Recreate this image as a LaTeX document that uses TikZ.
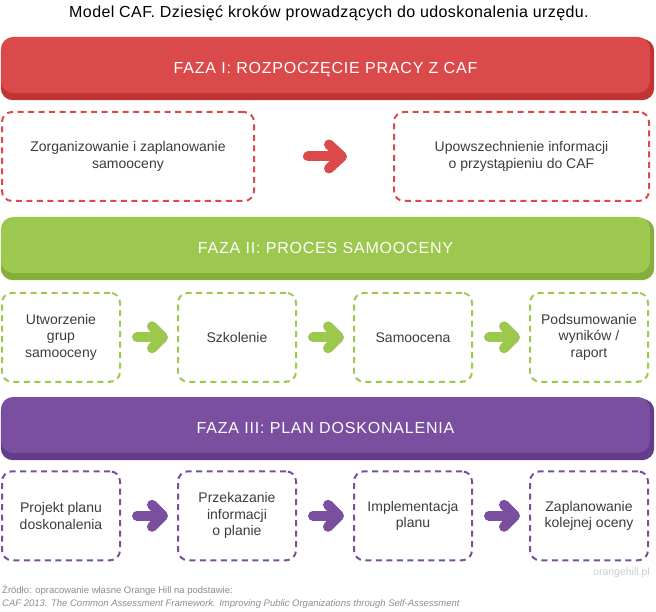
\documentclass[tikz,border=0pt]{standalone}
\usepackage{fontspec}
\setmainfont{Liberation Sans}
\newfontfamily\bandfont[LetterSpace=5]{Liberation Sans}
\newfontfamily\titlefont[LetterSpace=2.5]{Liberation Sans}
\usetikzlibrary{arrows.meta,backgrounds}
\definecolor{cafred}{RGB}{219,74,74}
\definecolor{cafredsh}{RGB}{192,52,52}
\definecolor{cafgreen}{RGB}{157,200,80}
\definecolor{cafgreensh}{RGB}{134,174,58}
\definecolor{cafpurple}{RGB}{122,79,160}
\definecolor{cafpurplesh}{RGB}{100,60,140}
\definecolor{textgray}{RGB}{60,60,60}
\definecolor{notegray}{RGB}{140,140,140}
\definecolor{wwwgray}{RGB}{205,205,205}

\begin{document}
\begin{tikzpicture}[x=1pt,y=-1pt,
  band/.style={fill=#1,rounded corners=12pt,minimum width=649pt,minimum height=56pt,
    text=white,text height=17.5pt,text depth=0pt,font=\bandfont\fontsize{16}{18}\selectfont},
  stepbox/.style={draw=#1,line width=2pt,dash pattern=on 6pt off 4.5pt,rounded corners=10pt,
    minimum width=118pt,minimum height=89pt,align=center,text=textgray,font=\fontsize{14}{16.5}\selectfont},
  fatarrow/.style={draw=#1,line width=10pt,line cap=round,
    -{Straight Barb[round,length=11pt 0,width=22pt 0]}}]
  \useasboundingbox (0,0) rectangle (656,612);

  \node[font=\titlefont\fontsize{16}{18}\selectfont] (title) at (329,13)
    {Model CAF. Dziesięć kroków prowadzących do udoskonalenia urzędu.};

  % phases:
  \node[band=cafred] (faza1) at (325.5,65) {FAZA I: ROZPOCZĘCIE PRACY Z CAF};
  \node[band=cafgreen] (faza2) at (325.5,245) {FAZA II: PROCES SAMOOCENY};
  \node[band=cafpurple] (faza3) at (325.5,425) {FAZA III: PLAN DOSKONALENIA};
  \begin{scope}[on background layer]
    \foreach \f/\c in {faza1/cafredsh, faza2/cafgreensh, faza3/cafpurplesh}
      \fill[\c,rounded corners=12pt] ([yshift=-2pt]\f.north west) rectangle ([xshift=4pt,yshift=-7pt]\f.south east);
  \end{scope}

  % steps:
  \node[stepbox=cafred,minimum width=252pt] (krok1) at (128,156.5) {Zorganizowanie i zaplanowanie\\samooceny};
  \node[stepbox=cafred,minimum width=255pt] (krok2) at (521.5,156.5) {Upowszechnienie informacji\\o przystąpieniu do CAF};

  \node[stepbox=cafgreen] (krok3) at (61,337.3) {Utworzenie\\grup\\samooceny};
  \node[stepbox=cafgreen] (krok4) at (237,337.3) {Szkolenie};
  \node[stepbox=cafgreen] (krok5) at (413,337.3) {Samoocena};
  \node[stepbox=cafgreen] (krok6) at (589,337.3) {Podsumowanie\\wyników /\\raport};

  \node[stepbox=cafpurple] (krok7) at (61,515.8) {Projekt planu\\doskonalenia};
  \node[stepbox=cafpurple] (krok8) at (237,515.8) {Przekazanie\\informacji\\o planie};
  \node[stepbox=cafpurple] (krok9) at (413,515.8) {Implementacja\\planu};
  \node[stepbox=cafpurple] (krok10) at (589,515.8) {Zaplanowanie\\kolejnej oceny};

  % arrows:
  \draw[fatarrow=cafred,-{Straight Barb[round,length=13pt 0,width=24pt 0]}]
    ([xshift=53pt]krok1.east) -- ([xshift=-46pt]krok2.west);
  \foreach \a/\b in {krok3/krok4, krok4/krok5, krok5/krok6}
    \draw[fatarrow=cafgreen] ([xshift=16pt]\a.east) -- ([xshift=-9pt]\b.west);
  \foreach \a/\b in {krok7/krok8, krok8/krok9, krok9/krok10}
    \draw[fatarrow=cafpurple] ([xshift=16pt]\a.east) -- ([xshift=-9pt]\b.west);

  % source:
  \node[anchor=east,inner sep=0pt,text=wwwgray,font=\fontsize{10.5}{12}\selectfont] (www) at (650,573) {orangehill.pl};
  \node[anchor=west,inner sep=0pt,align=left,text=notegray,font=\fontsize{9.5}{13.5}\selectfont] (zrodlo) at (2,597)
    {Źródło: opracowanie własne Orange Hill na podstawie:\\
     \textit{CAF 2013. The Common Assessment Framework. Improving Public Organizations through Self-Assessment}};
\end{tikzpicture}
\end{document}
